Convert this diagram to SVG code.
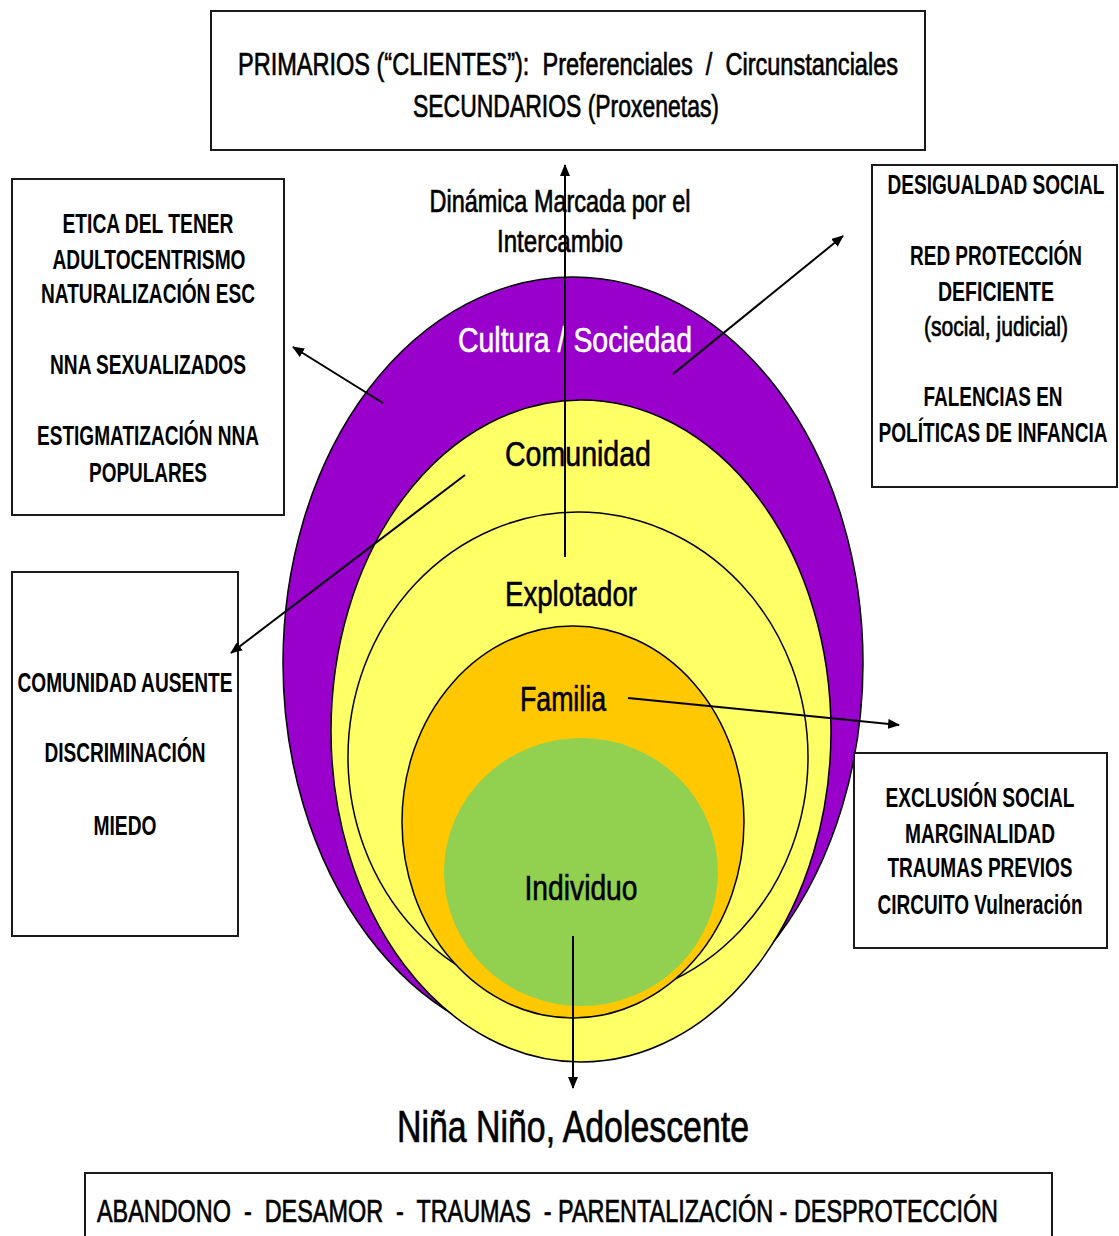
<svg xmlns="http://www.w3.org/2000/svg" width="1119" height="1236" viewBox="0 0 1119 1236">
<style>
.box{fill:#fff;stroke:#1a1a1a;stroke-width:2}
.bt{font-family:"Liberation Sans",Arial,sans-serif;font-weight:bold;font-size:27px;fill:#000;text-anchor:middle}
.nt{font-family:"Liberation Sans",Arial,sans-serif;font-size:32px;fill:#000;stroke:#000;stroke-width:0.7;text-anchor:middle;white-space:pre}
.cl{font-family:"Liberation Sans",Arial,sans-serif;font-size:35px;fill:#000;stroke:#000;stroke-width:0.6;text-anchor:middle}
.con{stroke:#000;stroke-width:2;fill:none;marker-end:url(#ah)}
.ring{stroke:#000;stroke-width:1.5}
</style>
<defs>
<marker id="ah" markerUnits="userSpaceOnUse" markerWidth="12" markerHeight="10" refX="11" refY="5" orient="auto">
<path d="M0,0 L12,5 L0,10 z" fill="#000"/>
</marker>
</defs>
<rect width="1119" height="1236" fill="#fff"/>

<g id="cultura">
<ellipse cx="573" cy="663" rx="290" ry="386" fill="#9900CC" class="ring"/>
<text x="575" y="352" class="cl" style="fill:#fff;stroke:#fff" textLength="234" lengthAdjust="spacingAndGlyphs">Cultura / Sociedad</text>
</g>
<g id="comunidad">
<ellipse cx="581" cy="731" rx="250" ry="331" fill="#FFFF66" class="ring"/>
<text x="578" y="466" class="cl" textLength="146" lengthAdjust="spacingAndGlyphs">Comunidad</text>
</g>
<g id="explotador">
<ellipse cx="578" cy="757" rx="230" ry="245" fill="none" class="ring"/>
<text x="571" y="606" class="cl" textLength="132" lengthAdjust="spacingAndGlyphs">Explotador</text>
</g>
<g id="familia">
<ellipse cx="573" cy="822" rx="171" ry="196" fill="#FFC800" class="ring"/>
<text x="563" y="711" class="cl" textLength="86" lengthAdjust="spacingAndGlyphs">Familia</text>
</g>
<g id="individuo">
<ellipse cx="581" cy="872" rx="137" ry="134" fill="#92D050"/>
<text x="581" y="900" class="cl" textLength="113" lengthAdjust="spacingAndGlyphs">Individuo</text>
</g>

<g id="dinamica">
<text x="560" y="212" class="nt" textLength="261" lengthAdjust="spacingAndGlyphs">Dinámica Marcada por el</text>
<text x="560" y="252" class="nt" textLength="126" lengthAdjust="spacingAndGlyphs">Intercambio</text>
</g>

<g id="primarios">
<rect x="211" y="11" width="714" height="139" class="box"/>
<text x="568" y="75" class="nt" xml:space="preserve" textLength="660" lengthAdjust="spacingAndGlyphs">PRIMARIOS (“CLIENTES”):  Preferenciales  /  Circunstanciales</text>
<text x="566" y="117" class="nt" textLength="306" lengthAdjust="spacingAndGlyphs">SECUNDARIOS (Proxenetas)</text>
</g>

<g id="etica">
<rect x="12" y="179" width="272" height="336" class="box"/>
<text x="148" y="233" class="bt" textLength="171" lengthAdjust="spacingAndGlyphs">ETICA DEL TENER</text>
<text x="149" y="269" class="bt" textLength="193" lengthAdjust="spacingAndGlyphs">ADULTOCENTRISMO</text>
<text x="148" y="303" class="bt" textLength="214" lengthAdjust="spacingAndGlyphs">NATURALIZACIÓN ESC</text>
<text x="148" y="374" class="bt" textLength="196" lengthAdjust="spacingAndGlyphs">NNA SEXUALIZADOS</text>
<text x="148" y="445" class="bt" textLength="222" lengthAdjust="spacingAndGlyphs">ESTIGMATIZACIÓN NNA</text>
<text x="148" y="482" class="bt" textLength="118" lengthAdjust="spacingAndGlyphs">POPULARES</text>
</g>

<g id="comunidad-ausente">
<rect x="12" y="572" width="226" height="364" class="box"/>
<text x="125" y="692" class="bt" textLength="215" lengthAdjust="spacingAndGlyphs">COMUNIDAD AUSENTE</text>
<text x="125" y="762" class="bt" textLength="161" lengthAdjust="spacingAndGlyphs">DISCRIMINACIÓN</text>
<text x="125" y="835" class="bt" textLength="63" lengthAdjust="spacingAndGlyphs">MIEDO</text>
</g>

<g id="desigualdad">
<rect x="872" y="165" width="245" height="322" class="box"/>
<text x="996" y="194" class="bt" textLength="217" lengthAdjust="spacingAndGlyphs">DESIGUALDAD SOCIAL</text>
<text x="996" y="265" class="bt" textLength="172" lengthAdjust="spacingAndGlyphs">RED PROTECCIÓN</text>
<text x="996" y="301" class="bt" textLength="116" lengthAdjust="spacingAndGlyphs">DEFICIENTE</text>
<text x="996" y="336" class="bt" style="font-weight:normal;stroke:#000;stroke-width:0.7" textLength="144" lengthAdjust="spacingAndGlyphs">(social, judicial)</text>
<text x="993" y="406" class="bt" textLength="139" lengthAdjust="spacingAndGlyphs">FALENCIAS EN</text>
<text x="993" y="442" class="bt" textLength="229" lengthAdjust="spacingAndGlyphs">POLÍTICAS DE INFANCIA</text>
</g>

<g id="exclusion">
<rect x="854" y="753" width="253" height="195" class="box"/>
<text x="980" y="807" class="bt" textLength="189" lengthAdjust="spacingAndGlyphs">EXCLUSIÓN SOCIAL</text>
<text x="980" y="843" class="bt" textLength="150" lengthAdjust="spacingAndGlyphs">MARGINALIDAD</text>
<text x="980" y="877" class="bt" textLength="185" lengthAdjust="spacingAndGlyphs">TRAUMAS PREVIOS</text>
<text x="980" y="914" class="bt" textLength="205" lengthAdjust="spacingAndGlyphs">CIRCUITO Vulneración</text>
</g>

<g id="nna">
<text x="573" y="1142" class="nt" style="font-size:44px" textLength="352" lengthAdjust="spacingAndGlyphs">Niña Niño, Adolescente</text>
</g>

<g id="abandono">
<rect x="85" y="1173" width="967" height="70" class="box"/>
<text x="97" y="1222" class="nt" xml:space="preserve" style="text-anchor:start" textLength="901" lengthAdjust="spacingAndGlyphs">ABANDONO  -  DESAMOR  -  TRAUMAS  - PARENTALIZACIÓN - DESPROTECCIÓN</text>
</g>

<g id="connectors">
<line x1="565" y1="557" x2="565" y2="165" class="con"/>
<line x1="673" y1="374" x2="843" y2="236" class="con"/>
<line x1="383" y1="403" x2="293" y2="347" class="con"/>
<line x1="465" y1="475" x2="231" y2="653" class="con"/>
<line x1="628" y1="698" x2="899" y2="725" class="con"/>
<line x1="573" y1="936" x2="573" y2="1088" class="con"/>
</g>
</svg>
